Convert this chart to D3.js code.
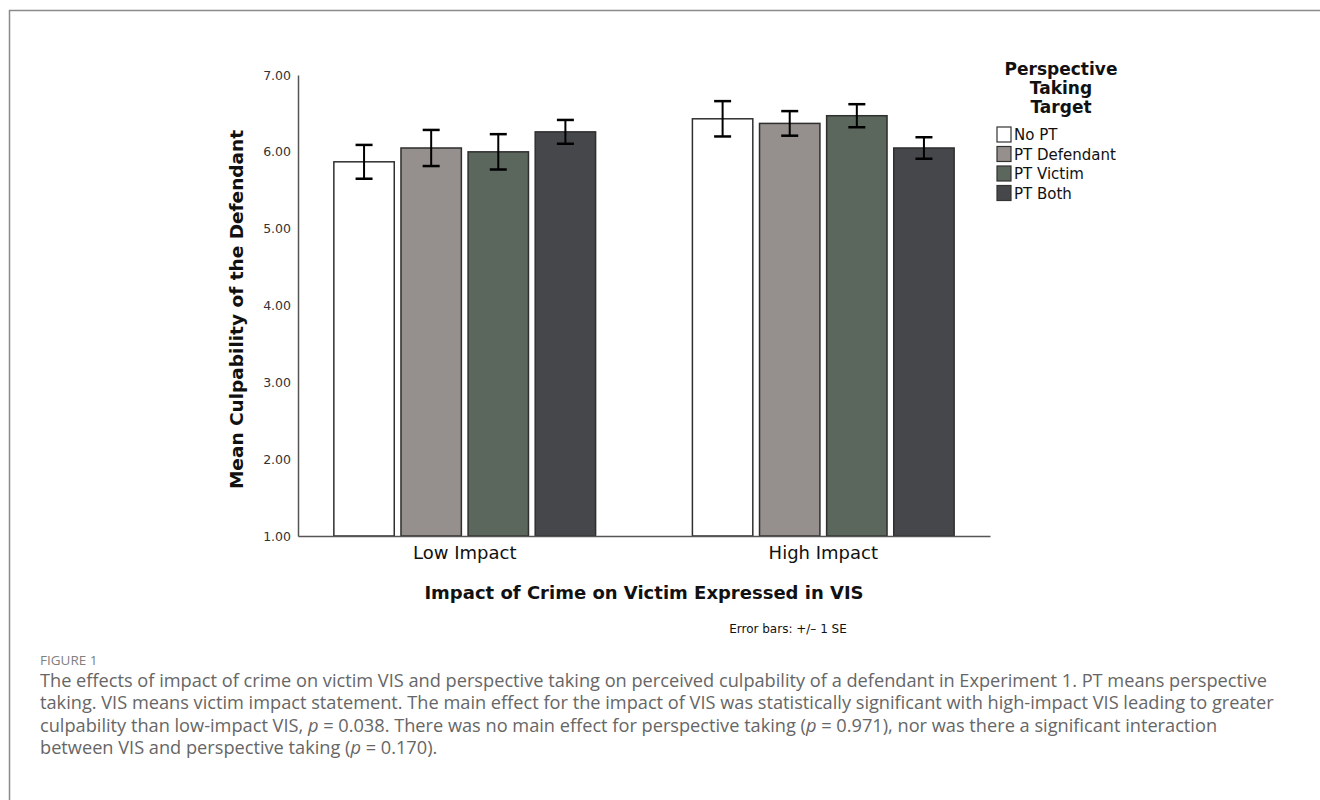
<!DOCTYPE html>
<html>
<head>
<meta charset="utf-8">
<script src="https://cdn.jsdelivr.net/npm/d3@7"></script>
<style>
  body { margin: 0; background: #fff; }
  svg { display: block; }
</style>
</head>
<body>
<div id="chart"></div>
<script>
// values
var groups = ["Low Impact", "High Impact"];
var series = ["No PT", "PT Defendant", "PT Victim", "PT Both"];
var lowMeans  = [5.87, 6.05, 6.00, 6.26];
var highMeans = [6.43, 6.37, 6.47, 6.05];
var lowSE  = [0.22, 0.235, 0.23, 0.155];
var highSE = [0.23, 0.16, 0.15, 0.14];
var yTicks = [1, 2, 3, 4, 5, 6, 7];
var fills = ["#ffffff", "#958f8d", "#5b665d", "#46474a"];

var captionLines = [
  [["The effects of impact of crime on victim VIS and perspective taking on perceived culpability of a defendant in Experiment 1. PT means perspective", 0]],
  [["taking. VIS means victim impact statement. The main effect for the impact of VIS was statistically significant with high-impact VIS leading to greater", 0]],
  [["culpability than low-impact VIS, ", 0], ["p", 1], [" = 0.038. There was no main effect for perspective taking (", 0], ["p", 1], [" = 0.971), nor was there a significant interaction", 0]],
  [["between VIS and perspective taking (", 0], ["p", 1], [" = 0.170).", 0]]
];

var width = 1320, height = 800;
var font = "'DejaVu Sans', sans-serif";

var svg = d3.select("#chart").append("svg")
  .attr("width", width)
  .attr("height", height);

// page frame (only top and left edges are in view)
svg.append("rect")
  .attr("x", 9.5).attr("y", 10.5)
  .attr("width", 1400).attr("height", 900)
  .attr("fill", "none")
  .attr("stroke", "#8a8a8a")
  .attr("stroke-width", 1.5);

var x0 = 298, x1 = 990, yTop = 75, yBase = 536;

var x = d3.scaleBand()
  .domain(groups)
  .range([x0, x1])
  .paddingInner(0.27)
  .paddingOuter(0.1);

var xs = d3.scaleBand()
  .domain(series)
  .range([0, x.bandwidth()])
  .paddingInner(0.1);

var y = d3.scaleLinear()
  .domain([1, 7])
  .range([yBase, yTop]);

var rows = [];
groups.forEach(function(g, gi) {
  var m = gi === 0 ? lowMeans : highMeans;
  var se = gi === 0 ? lowSE : highSE;
  series.forEach(function(s, si) {
    rows.push({ group: g, key: s, i: si, mean: m[si], se: se[si] });
  });
});

// bars
svg.append("g").selectAll("rect")
  .data(rows)
  .enter()
  .append("rect")
  .attr("x", function(d) { return x(d.group) + xs(d.key); })
  .attr("y", function(d) { return y(d.mean); })
  .attr("width", xs.bandwidth())
  .attr("height", function(d) { return y(1) - y(d.mean); })
  .attr("fill", function(d) { return fills[d.i]; })
  .attr("stroke", "#2f2f2f")
  .attr("stroke-width", 1.5);

// error bars
var eb = svg.append("g").selectAll("g")
  .data(rows)
  .enter()
  .append("g")
  .attr("stroke", "#000")
  .attr("transform", function(d) {
    return "translate(" + (x(d.group) + xs(d.key) + xs.bandwidth() / 2) + ",0)";
  });
eb.append("line")
  .attr("y1", function(d) { return y(d.mean + d.se); })
  .attr("y2", function(d) { return y(d.mean - d.se); })
  .attr("stroke-width", 2);
eb.append("line")
  .attr("x1", -8.5).attr("x2", 8.5)
  .attr("y1", function(d) { return y(d.mean + d.se); })
  .attr("y2", function(d) { return y(d.mean + d.se); })
  .attr("stroke-width", 2.5);
eb.append("line")
  .attr("x1", -8.5).attr("x2", 8.5)
  .attr("y1", function(d) { return y(d.mean - d.se); })
  .attr("y2", function(d) { return y(d.mean - d.se); })
  .attr("stroke-width", 2.5);

// y axis
var yAxis = svg.append("g")
  .attr("transform", "translate(" + x0 + ",0)")
  .call(d3.axisLeft(y).tickValues(yTicks).tickFormat(d3.format(".2f")).tickSize(0).tickPadding(7));
yAxis.select(".domain").attr("stroke", "#555").attr("stroke-width", 1.5);
yAxis.selectAll("text")
  .attr("font-family", font)
  .attr("font-size", 12.5)
  .attr("fill", "#333");

// x axis
var xAxis = svg.append("g")
  .attr("transform", "translate(0," + yBase + ")")
  .call(d3.axisBottom(x).tickSize(0).tickPadding(10));
xAxis.select(".domain").attr("stroke", "#555").attr("stroke-width", 1.5);
xAxis.selectAll("text")
  .attr("font-family", font)
  .attr("font-size", 18)
  .attr("fill", "#111");

// axis titles
svg.append("text")
  .attr("transform", "translate(243," + ((yTop + yBase) / 2 + 4) + ") rotate(-90)")
  .attr("text-anchor", "middle")
  .attr("font-family", font)
  .attr("font-weight", "bold")
  .attr("font-size", 18.5)
  .attr("fill", "#111")
  .text("Mean Culpability of the Defendant");

svg.append("text")
  .attr("x", 644).attr("y", 599)
  .attr("text-anchor", "middle")
  .attr("font-family", font)
  .attr("font-weight", "bold")
  .attr("font-size", 18)
  .attr("fill", "#111")
  .text("Impact of Crime on Victim Expressed in VIS");

svg.append("text")
  .attr("x", 788).attr("y", 633)
  .attr("text-anchor", "middle")
  .attr("font-family", font)
  .attr("font-size", 12)
  .attr("fill", "#111")
  .text("Error bars: +/\u2013 1 SE");

// legend
var legend = svg.append("g");
["Perspective", "Taking", "Target"].forEach(function(t, i) {
  legend.append("text")
    .attr("x", 1061).attr("y", 75 + i * 19)
    .attr("text-anchor", "middle")
    .attr("font-family", font)
    .attr("font-weight", "bold")
    .attr("font-size", 17)
    .attr("fill", "#111")
    .text(t);
});
var li = legend.selectAll("g.item")
  .data(series)
  .enter()
  .append("g")
  .attr("class", "item")
  .attr("transform", function(d, i) { return "translate(997," + (127 + i * 19.5) + ")"; });
li.append("rect")
  .attr("width", 14).attr("height", 15)
  .attr("fill", function(d, i) { return fills[i]; })
  .attr("stroke", "#333")
  .attr("stroke-width", 1.2);
li.append("text")
  .attr("x", 17).attr("y", 13)
  .attr("font-family", font)
  .attr("font-size", 15)
  .attr("fill", "#111")
  .text(function(d) { return d; });

// caption
svg.append("text")
  .attr("x", 40).attr("y", 665)
  .attr("font-family", "'Open Sans', sans-serif")
  .attr("font-size", 13.5)
  .attr("fill", "#808080")
  .text("FIGURE 1");

var cap = svg.append("g")
  .attr("font-family", "'Open Sans', sans-serif")
  .attr("font-size", 18.2)
  .attr("fill", "#666");
captionLines.forEach(function(line, i) {
  var t = cap.append("text")
    .attr("x", 40).attr("y", 687 + i * 22.3);
  line.forEach(function(part) {
    t.append("tspan")
      .attr("font-style", part[1] ? "italic" : null)
      .text(part[0]);
  });
});
</script>
</body>
</html>
